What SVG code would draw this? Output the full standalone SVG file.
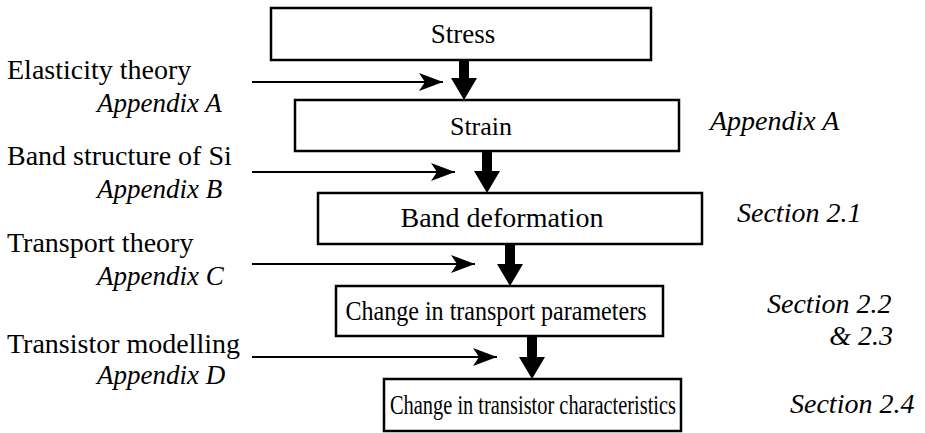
<svg xmlns="http://www.w3.org/2000/svg" width="925" height="433" viewBox="0 0 925 433">
<style>
.box{fill:#fff;stroke:#000;stroke-width:2.5}
text{font-family:'Liberation Serif','Times New Roman',Times,serif;fill:#000;font-size:28px}
.i{font-style:italic}
.c{text-anchor:middle}
.thin{stroke:#000;stroke-width:2;fill:none}
</style>
<defs>
<marker id="barb" markerUnits="userSpaceOnUse" markerWidth="26" markerHeight="20" refX="24" refY="9" orient="auto">
<path d="M0,0 L24,9 L0,18 L6,9 Z" fill="#000"/>
</marker>
</defs>
<rect width="925" height="433" fill="#fff"/>
<g id="connectors">
<path class="thin" d="M252,82 H443" marker-end="url(#barb)"/>
<path class="thin" d="M252,172 H455" marker-end="url(#barb)"/>
<path class="thin" d="M252,264 H475" marker-end="url(#barb)"/>
<path class="thin" d="M252,357 H497" marker-end="url(#barb)"/>
<path d="M459,60 H469 V78 H477 L464,100 L451,78 H459 Z" fill="#000"/>
<path d="M482,151 H492 V171 H500 L487,193 L474,171 H482 Z" fill="#000"/>
<path d="M505,244 H515 V264 H523 L510,286 L497,264 H505 Z" fill="#000"/>
<path d="M527,336 H537 V357 H545 L532,379 L519,357 H527 Z" fill="#000"/>
</g>
<g id="stress"><rect class="box" x="271" y="8" width="380" height="52"/><text class="c" x="463" y="43" style="font-size:27px">Stress</text></g>
<g id="strain"><rect class="box" x="295" y="100" width="384" height="51"/><text class="c" x="481" y="135" style="font-size:26px">Strain</text></g>
<g id="band"><rect class="box" x="318" y="193" width="384" height="51"/><text class="c" x="502" y="227">Band deformation</text></g>
<g id="transport"><rect class="box" x="336" y="286" width="327" height="50"/><text class="c" x="496" y="320" style="font-size:27px" textLength="301" lengthAdjust="spacingAndGlyphs">Change in transport parameters</text></g>
<g id="transistor"><rect class="box" x="384" y="379" width="297" height="52"/><text class="c" x="533" y="414" style="font-size:27px" textLength="286" lengthAdjust="spacingAndGlyphs">Change in transistor characteristics</text></g>
<g id="left-labels">
<text x="7" y="79">Elasticity theory</text>
<text class="i" x="97" y="112" style="font-size:27px">Appendix A</text>
<text x="7" y="165">Band structure of Si</text>
<text class="i" x="97" y="198" style="font-size:27px">Appendix B</text>
<text x="7" y="252">Transport theory</text>
<text class="i" x="97" y="285" style="font-size:27px">Appendix C</text>
<text x="7" y="353">Transistor modelling</text>
<text class="i" x="97" y="384" style="font-size:27px">Appendix D</text>
</g>
<g id="right-labels">
<text class="i" x="710" y="130">Appendix A</text>
<text class="i" x="737" y="222">Section 2.1</text>
<text class="i" x="767" y="313">Section 2.2</text>
<text class="i" x="893" y="345" text-anchor="end">&amp; 2.3</text>
<text class="i" x="790" y="413">Section 2.4</text>
</g>
</svg>
